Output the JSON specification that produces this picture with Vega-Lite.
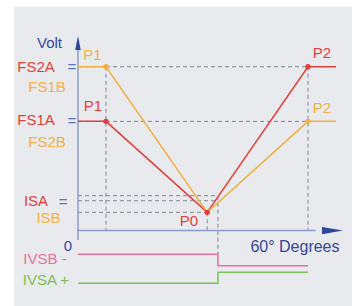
{
  "$schema": "https://vega.github.io/schema/vega-lite/v6.json",
  "width": 352,
  "height": 306,
  "padding": 0,
  "autosize": {"type": "none"},
  "background": "#ffffff",
  "config": {"view": {"stroke": null}, "text": {"font": "Liberation Sans"}},
  "datasets": {
    "panel": [{"x": -16.7, "x2": 71.5, "v": 4.094, "v2": -1.4}],
    "dashes": [
      {"x": 0, "x2": 60, "v": 3.0, "v2": 3.0},
      {"x": 0, "x2": 60, "v": 2.0, "v2": 2.0},
      {"x": 0, "x2": 36.5, "v": 0.639, "v2": 0.639},
      {"x": 0, "x2": 36.5, "v": 0.547, "v2": 0.547},
      {"x": 0, "x2": 33.7, "v": 0.335, "v2": 0.335},
      {"x": 7.3, "x2": 7.3, "v": 3.0, "v2": 0},
      {"x": 33.7, "x2": 33.7, "v": 0.335, "v2": 0},
      {"x": 36.5, "x2": 36.5, "v": 0.639, "v2": -0.434},
      {"x": 60, "x2": 60, "v": 3.0, "v2": 0}
    ],
    "axes": [
      {"x": -0.26, "x2": 62, "v": 0, "v2": 0},
      {"x": 0, "x2": 0, "v": -0.17, "v2": 3.35}
    ],
    "curves": [
      {"series": "A", "o": 1, "deg": 0, "volt": 2.0},
      {"series": "A", "o": 2, "deg": 7.3, "volt": 2.0},
      {"series": "A", "o": 3, "deg": 33.7, "volt": 0.335},
      {"series": "A", "o": 4, "deg": 60, "volt": 3.0},
      {"series": "A", "o": 5, "deg": 67.3, "volt": 3.0},
      {"series": "B", "o": 1, "deg": 0, "volt": 3.0},
      {"series": "B", "o": 2, "deg": 7.3, "volt": 3.0},
      {"series": "B", "o": 3, "deg": 33.7, "volt": 0.335},
      {"series": "B", "o": 4, "deg": 60, "volt": 2.0},
      {"series": "B", "o": 5, "deg": 67.3, "volt": 2.0},
      {"series": "IVSB", "o": 1, "deg": 0, "volt": -0.434},
      {"series": "IVSB", "o": 2, "deg": 36.5, "volt": -0.434},
      {"series": "IVSB", "o": 3, "deg": 36.5, "volt": -0.643},
      {"series": "IVSB", "o": 4, "deg": 60, "volt": -0.643},
      {"series": "IVSA", "o": 1, "deg": 0, "volt": -0.965},
      {"series": "IVSA", "o": 2, "deg": 36.5, "volt": -0.965},
      {"series": "IVSA", "o": 3, "deg": 36.5, "volt": -0.763},
      {"series": "IVSA", "o": 4, "deg": 60, "volt": -0.763}
    ],
    "dots": [
      {"series": "B", "deg": 7.3, "volt": 3.0},
      {"series": "B", "deg": 60, "volt": 2.0},
      {"series": "A", "deg": 7.3, "volt": 2.0},
      {"series": "A", "deg": 33.7, "volt": 0.335},
      {"series": "A", "deg": 60, "volt": 3.0}
    ],
    "labels": [
      {"text": "Volt", "series": "axis", "deg": -7.43, "volt": 3.435, "big": "n"},
      {"text": "P1", "series": "B", "deg": 3.78, "volt": 3.215, "big": "n"},
      {"text": "FS2A", "series": "A", "deg": -10.96, "volt": 3.0, "big": "n"},
      {"text": "FS1B", "series": "B", "deg": -8.09, "volt": 2.63, "big": "n"},
      {"text": "P1", "series": "A", "deg": 3.91, "volt": 2.281, "big": "n"},
      {"text": "FS1A", "series": "A", "deg": -10.96, "volt": 2.016, "big": "n"},
      {"text": "FS2B", "series": "B", "deg": -8.09, "volt": 1.622, "big": "n"},
      {"text": "P2", "series": "A", "deg": 63.65, "volt": 3.251, "big": "n"},
      {"text": "P2", "series": "B", "deg": 63.65, "volt": 2.245, "big": "n"},
      {"text": "ISA", "series": "A", "deg": -10.96, "volt": 0.542, "big": "n"},
      {"text": "ISB", "series": "B", "deg": -7.7, "volt": 0.225, "big": "n"},
      {"text": "P0", "series": "A", "deg": 28.96, "volt": 0.185, "big": "n"},
      {"text": "0", "series": "axis", "deg": -2.61, "volt": -0.282, "big": "n"},
      {"text": "IVSB -", "series": "IVSB", "deg": -8.61, "volt": -0.52, "big": "n"},
      {"text": "IVSA +", "series": "IVSA", "deg": -8.35, "volt": -0.904, "big": "n"},
      {"text": "=", "series": "eq", "deg": -1.57, "volt": 3.0, "big": "n"},
      {"text": "=", "series": "eq", "deg": -1.57, "volt": 2.0, "big": "n"},
      {"text": "=", "series": "eq", "deg": -3.9, "volt": 0.533, "big": "n"},
      {"text": "60° Degrees", "series": "axis", "deg": 56.6, "volt": -0.30, "big": "y"}
    ]
  },
  "layer": [
    {
      "data": {"name": "panel"},
      "mark": {"type": "rect", "fill": "#e8eaed"},
      "encoding": {
        "x": {"field": "x", "type": "quantitative", "scale": {"domain": [-20.348, 71.478], "nice": false, "zero": false}, "axis": null},
        "x2": {"field": "x2"},
        "y": {"field": "v", "type": "quantitative", "scale": {"domain": [-1.38, 4.222], "nice": false, "zero": false}, "axis": null},
        "y2": {"field": "v2"}
      }
    },
    {
      "data": {"name": "dashes"},
      "mark": {"type": "rule", "stroke": "#80879a", "strokeWidth": 1, "strokeDash": [4, 3]},
      "encoding": {
        "x": {"field": "x", "type": "quantitative"},
        "x2": {"field": "x2"},
        "y": {"field": "v", "type": "quantitative"},
        "y2": {"field": "v2"}
      }
    },
    {
      "data": {"name": "axes"},
      "mark": {"type": "rule", "stroke": "#8d9dd0", "strokeWidth": 1.5},
      "encoding": {
        "x": {"field": "x", "type": "quantitative"},
        "x2": {"field": "x2"},
        "y": {"field": "v", "type": "quantitative"},
        "y2": {"field": "v2"}
      }
    },
    {
      "data": {"name": "curves"},
      "mark": {"type": "line", "strokeWidth": 1.5},
      "encoding": {
        "x": {"field": "deg", "type": "quantitative"},
        "y": {"field": "volt", "type": "quantitative"},
        "order": {"field": "o", "type": "quantitative"},
        "color": {"field": "series", "type": "nominal", "legend": null,
          "scale": {"domain": ["A", "B", "axis", "eq", "IVSB", "IVSA"], "range": ["#e23f3b", "#f2b142", "#33489b", "#5d75c2", "#e8709c", "#7bc25a"]}}
      }
    },
    {
      "data": {"name": "dots"},
      "mark": {"type": "point", "filled": true, "size": 28, "opacity": 1},
      "encoding": {
        "x": {"field": "deg", "type": "quantitative"},
        "y": {"field": "volt", "type": "quantitative"},
        "color": {"field": "series", "type": "nominal", "legend": null}
      }
    },
    {
      "data": {"values": [{"deg": 66.39, "volt": 0}]},
      "mark": {"type": "point", "filled": true, "opacity": 1, "color": "#2e46a0", "size": 441, "shape": "M-1,-0.35L1,0L-1,0.35Z"},
      "encoding": {
        "x": {"field": "deg", "type": "quantitative"},
        "y": {"field": "volt", "type": "quantitative"}
      }
    },
    {
      "data": {"values": [{"deg": 0, "volt": 3.435}]},
      "mark": {"type": "point", "filled": true, "opacity": 1, "color": "#2e46a0", "size": 196, "shape": "M-0.4,1L0,-1L0.4,1Z"},
      "encoding": {
        "x": {"field": "deg", "type": "quantitative"},
        "y": {"field": "volt", "type": "quantitative"}
      }
    },
    {
      "data": {"name": "labels"},
      "mark": {"type": "text", "align": "center", "baseline": "middle"},
      "encoding": {
        "x": {"field": "deg", "type": "quantitative"},
        "y": {"field": "volt", "type": "quantitative"},
        "text": {"field": "text"},
        "color": {"field": "series", "type": "nominal", "legend": null},
        "size": {"field": "big", "type": "nominal", "legend": null, "scale": {"domain": ["n", "y"], "range": [15, 16]}}
      }
    }
  ]
}
